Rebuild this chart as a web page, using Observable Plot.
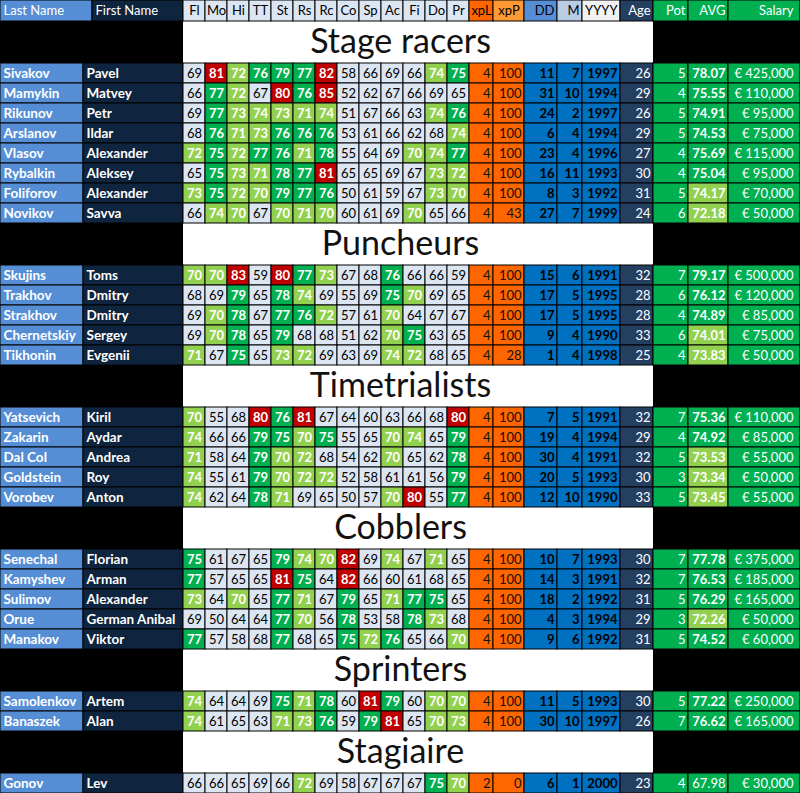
<!DOCTYPE html>
<html><head><meta charset="utf-8">
<script src="https://cdn.jsdelivr.net/npm/d3@7"></script>
<script src="https://cdn.jsdelivr.net/npm/@observablehq/plot@0.6"></script>
<style>
html,body{margin:0;padding:0;background:#000;}
#chart svg{display:block;}
</style></head><body><div id="chart"></div>
<script>
// ---------------- DATA ----------------
const statLabels = ["Fl","Mo","Hi","TT","St","Rs","Rc","Co","Sp","Ac","Fi","Do","Pr"];
const groups = ["Stage racers","Puncheurs","Timetrialists","Cobblers","Sprinters","Stagiaire"];
const groupOf = [0,0,0,0,0,0,0,0, 1,1,1,1,1, 2,2,2,2,2, 3,3,3,3,3, 4,4, 5];
const lastNames = ["Sivakov","Mamykin","Rikunov","Arslanov","Vlasov","Rybalkin","Foliforov","Novikov",
  "Skujins","Trakhov","Strakhov","Chernetskiy","Tikhonin",
  "Yatsevich","Zakarin","Dal Col","Goldstein","Vorobev",
  "Senechal","Kamyshev","Sulimov","Orue","Manakov",
  "Samolenkov","Banaszek","Gonov"];
const firstNames = ["Pavel","Matvey","Petr","Ildar","Alexander","Aleksey","Alexander","Savva",
  "Toms","Dmitry","Dmitry","Sergey","Evgenii",
  "Kiril","Aydar","Andrea","Roy","Anton",
  "Florian","Arman","Alexander","German Anibal","Viktor",
  "Artem","Alan","Lev"];
const stats = [
  [69,81,72,76,79,77,82,58,66,69,66,74,75],
  [66,77,72,67,80,76,85,52,62,67,66,69,65],
  [69,77,73,74,73,71,74,51,67,66,63,74,76],
  [68,76,71,73,76,76,76,53,61,66,62,68,74],
  [72,75,72,77,76,71,78,55,64,69,70,74,77],
  [65,75,73,71,78,77,81,65,65,69,67,73,72],
  [73,75,72,70,79,77,76,50,61,59,67,73,70],
  [66,74,70,67,70,71,70,60,61,69,70,65,66],
  [70,70,83,59,80,77,73,67,68,76,66,66,59],
  [68,69,79,65,78,74,69,55,69,75,70,69,65],
  [69,70,78,67,77,76,72,57,61,70,64,67,67],
  [69,70,78,65,79,68,68,51,62,70,75,63,65],
  [71,67,75,65,73,72,69,63,69,74,72,68,65],
  [70,55,68,80,76,81,67,64,60,63,66,68,80],
  [74,66,66,79,75,70,75,55,65,70,74,65,79],
  [71,58,64,79,70,72,68,54,62,70,65,62,78],
  [74,55,61,79,70,72,72,52,58,61,61,56,79],
  [74,62,64,78,71,69,65,50,57,70,80,55,77],
  [75,61,67,65,79,74,70,82,69,74,67,71,65],
  [77,57,65,65,81,75,64,82,66,60,61,68,65],
  [73,64,70,65,77,71,67,79,65,71,77,75,65],
  [69,50,64,64,77,70,56,78,53,58,78,73,68],
  [77,57,58,68,77,68,65,75,72,76,65,66,70],
  [74,64,64,69,75,71,78,60,81,79,60,70,70],
  [74,61,65,63,71,73,76,59,79,81,65,70,73],
  [66,66,65,69,66,72,69,58,67,67,67,75,70]
];
const xpL = [4,4,4,4,4,4,4,4, 4,4,4,4,4, 4,4,4,4,4, 4,4,4,4,4, 4,4, 2];
const xpP = [100,100,100,100,100,100,100,43, 100,100,100,100,28, 100,100,100,100,100, 100,100,100,100,100, 100,100, 0];
const birthDay = [11,31,24,6,23,16,8,27, 15,17,17,9,1, 7,19,30,20,12, 10,14,18,4,9, 11,30, 6];
const birthMonth = [7,10,2,4,4,11,3,7, 6,5,5,4,4, 5,4,4,5,10, 7,3,2,3,6, 5,10, 1];
const birthYear = [1997,1994,1997,1994,1996,1993,1992,1999, 1991,1995,1995,1990,1998, 1991,1994,1991,1993,1990, 1993,1991,1992,1994,1992, 1993,1997, 2000];
const ages = [26,29,26,29,27,30,31,24, 32,28,28,33,25, 32,29,32,30,33, 30,32,31,29,31, 30,26, 23];
const potential = [5,4,5,5,4,4,5,6, 7,6,4,6,4, 7,4,5,3,5, 7,7,5,3,5, 5,7, 4];
const average = [78.07,75.55,74.91,74.53,75.69,75.04,74.17,72.18, 79.17,76.12,74.89,74.01,73.83, 75.36,74.92,73.53,73.34,73.45, 77.78,76.53,76.29,72.26,74.52, 77.22,76.62, 67.98];
const salary = [425000,110000,95000,75000,115000,95000,70000,50000, 500000,120000,85000,75000,50000, 110000,85000,55000,50000,55000, 375000,185000,165000,50000,60000, 250000,165000, 30000];

// ---------------- LAYOUT / STYLE ----------------
const W = 800, H = 793;
const HEADER_H = 21, TITLE_H = 42, ROW_H = 20;
const FONT = "Lato, 'DejaVu Sans', sans-serif";
const NAME_SIZE = 13.5;
const C = {
  last: "#558ED5", first: "#0F243E", statBg: "#DCE6F2", lg: "#92D050", dg: "#00B050", red: "#C00000",
  orange: "#FF6600", orangeLight: "#FF9933", blue: "#0070C0", blueMid: "#558ED5", blueLight: "#B8CCE4",
  grey: "#F2F2F2", navy: "#243F60", green: "#00B050"
};
const statColor = v => v >= 80 ? C.red : v >= 75 ? C.dg : v >= 70 ? C.lg : C.statBg;
const avgColor = v => v >= 74.5 ? C.dg : v >= 70 ? C.lg : C.green;
const fmtSalary = v => "€ " + d3.format(",")(v);

// column definitions: width in data rows, width in header row
const cols = [
  {w:83, hw:92, head:"Last Name", hFill:C.last, hColor:"#fff", hAlign:"start",
    cell:i=>({text:lastNames[i], fill:C.last, color:"#fff", bold:true, align:"start", size:NAME_SIZE})},
  {w:100, hw:91, head:"First Name", hFill:C.first, hColor:"#fff", hAlign:"start",
    cell:i=>({text:firstNames[i], fill:C.first, color:"#fff", bold:true, align:"start", size:NAME_SIZE})},
  ...statLabels.map((s, k) => ({w:22, hw:22, head:s, hFill:C.statBg, hColor:"#000", hAlign:"middle",
    cell:i=>{const v = stats[i][k]; return {text:String(v), fill:statColor(v), color: v>=70?"#fff":"#000", bold: v>=70, align:"middle", size:13};}})),
  {w:24, hw:24, head:"xpL", hFill:C.orange, hColor:"#000", hAlign:"middle",
    cell:i=>({text:String(xpL[i]), fill:C.orange, color:"#111", bold:false, align:"end", size:13})},
  {w:31, hw:31, head:"xpP", hFill:C.orangeLight, hColor:"#000", hAlign:"middle",
    cell:i=>({text:String(xpP[i]), fill:C.orange, color:"#111", bold:false, align:"end", size:13})},
  {w:33, hw:33, head:"DD", hFill:C.blueMid, hColor:"#000", hAlign:"end",
    cell:i=>({text:String(birthDay[i]), fill:C.blue, color:"#000", bold:true, align:"end", size:13})},
  {w:25, hw:25, head:"M", hFill:C.blueLight, hColor:"#000", hAlign:"end",
    cell:i=>({text:String(birthMonth[i]), fill:C.blue, color:"#000", bold:true, align:"end", size:13})},
  {w:38, hw:38, head:"YYYY", hFill:C.grey, hColor:"#000", hAlign:"end",
    cell:i=>({text:String(birthYear[i]), fill:C.blue, color:"#000", bold:true, align:"end", size:13})},
  {w:33, hw:33, head:"Age", hFill:C.navy, hColor:"#fff", hAlign:"end",
    cell:i=>({text:String(ages[i]), fill:C.navy, color:"#fff", bold:false, align:"end", size:13})},
  {w:35, hw:35, head:"Pot", hFill:C.green, hColor:"#fff", hAlign:"end",
    cell:i=>({text:String(potential[i]), fill:C.green, color:"#fff", bold:false, align:"end", size:13})},
  {w:40, hw:40, head:"AVG", hFill:C.green, hColor:"#fff", hAlign:"end",
    cell:i=>{const v = average[i]; return {text:v.toFixed(2), fill:avgColor(v), color:"#fff", bold: v>=70, align:"end", size:13};}},
  {w:72, hw:72, head:"Salary", hFill:C.green, hColor:"#fff", hAlign:"end", pad:7,
    cell:i=>({text:fmtSalary(salary[i]), fill:C.green, color:"#fff", bold:false, align:"end", size:13})}
];

const edges = (key) => { let acc = 0; return cols.map(c => { const a = acc; acc += c[key]; return [a, acc]; }); };
const dataEdges = edges("w"), headEdges = edges("hw");
const ageIndex = cols.findIndex(c => c.head === "Age");
const titleX1 = dataEdges[2][0], titleX2 = dataEdges[ageIndex][1];

function textX(x1, x2, align, pad) {
  const p = pad ?? 3;
  return align === "start" ? x1 + p : align === "end" ? x2 - p : (x1 + x2) / 2;
}

const cells = [], bands = [], titles = [];
// header row
cols.forEach((c, j) => {
  const [x1, x2] = headEdges[j];
  cells.push({x1, x2, y1:0, y2:HEADER_H, fill:c.hFill, text:c.head, color:c.hColor, bold:false, size:13,
    align:c.hAlign, tx:textX(x1, x2, c.hAlign, c.pad), ty:HEADER_H/2});
});
let y = HEADER_H;
groups.forEach((g, gi) => {
  bands.push({x1:titleX1, x2:titleX2, y1:y, y2:y + TITLE_H});
  titles.push({text:g, x:W/2, y:y + TITLE_H/2});
  y += TITLE_H;
  lastNames.forEach((_, i) => {
    if (groupOf[i] !== gi) return;
    cols.forEach((c, j) => {
      const [x1, x2] = dataEdges[j];
      const d = c.cell(i);
      cells.push({x1, x2, y1:y, y2:y + ROW_H, ...d, tx:textX(x1, x2, d.align, c.pad), ty:y + ROW_H/2});
    });
    y += ROW_H;
  });
});

const textMarks = [];
for (const align of ["start","middle","end"]) {
  for (const bold of [true, false]) {
    for (const size of [13, NAME_SIZE]) {
      const sub = cells.filter(d => d.align === align && d.bold === bold && d.size === size);
      if (!sub.length) continue;
      textMarks.push(Plot.text(sub, {
        x:"tx", y:"ty", text:"text", fill:"color", textAnchor:align,
        fontWeight: bold ? "bold" : "normal", fontSize:size, fontFamily:FONT
      }));
    }
  }
}

const chart = Plot.plot({
  width: W, height: H,
  margin: 0,
  x: {type:"linear", domain:[0, W], range:[0, W], axis:null},
  y: {type:"linear", domain:[0, H], range:[0, H], axis:null},
  color: {type:"identity"},
  style: {background:"#000", fontFamily:FONT},
  marks: [
    Plot.rect(bands, {x1:"x1", x2:"x2", y1:"y1", y2:"y2", fill:"#fff"}),
    Plot.rect(cells, {x1:"x1", x2:"x2", y1:"y1", y2:"y2", fill:"fill", stroke:"#000", strokeWidth:1}),
    ...textMarks,
    Plot.text(titles, {x:"x", y:"y", text:"text", fill:"#111", fontSize:34, fontWeight:400, fontFamily:FONT, textAnchor:"middle"})
  ]
});
document.getElementById("chart").appendChild(chart);
</script>
</body></html>
